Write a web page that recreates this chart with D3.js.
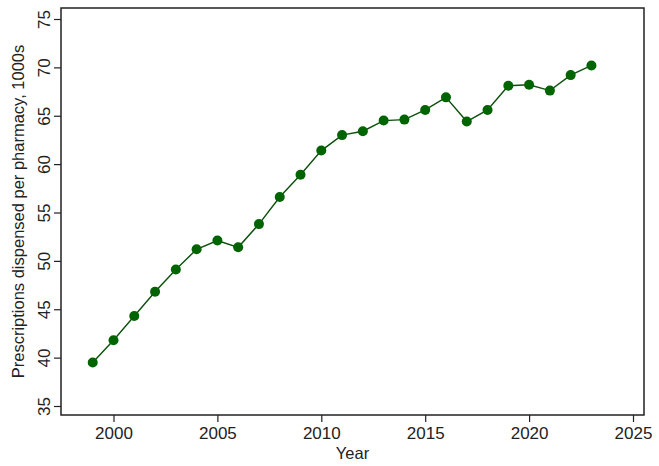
<!DOCTYPE html>
<html lang="en">
<head>
  <meta charset="UTF-8">
  <title>Prescriptions per pharmacy</title>
  <script src="https://d3js.org/d3.v7.min.js"></script>
  <style>
    body { margin: 0; background: #fff; }
    svg { display: block; }
    text {
      font-family: "Liberation Sans", Arial, Helvetica, sans-serif;
      fill: #222;
    }
  </style>
</head>
<body>
  <svg></svg>

  <script>
    const width = 659;
    const height = 466;

    // datos
    const years = [1999, 2000, 2001, 2002, 2003, 2004, 2005, 2006, 2007, 2008, 2009, 2010,
                   2011, 2012, 2013, 2014, 2015, 2016, 2017, 2018, 2019, 2020, 2021, 2022, 2023];
    const prescriptions = [39.5, 41.8, 44.3, 46.8, 49.1, 51.2, 52.1, 51.4, 53.8, 56.6, 58.9, 61.4,
                           63.0, 63.4, 64.5, 64.6, 65.6, 66.9, 64.4, 65.6, 68.1, 68.2, 67.6, 69.2, 70.2];
    const xTicks = [2000, 2005, 2010, 2015, 2020, 2025];
    const yTicks = [35, 40, 45, 50, 55, 60, 65, 70, 75];

    const data = years.map((y, i) => ({ year: y, value: prescriptions[i] }));

    // caja del grafico
    const frame = { left: 61, right: 644, top: 8, bottom: 415 };

    const svg = d3.select("svg")
        .attr("width", width)
        .attr("height", height);

    const x = d3.scaleLinear()
        .domain([2000, 2025])
        .range([113.5, 633]);

    const y = d3.scaleLinear()
        .domain([35, 75])
        .range([406, 19]);

    // eje x
    svg.append("g")
        .attr("transform", `translate(0,${frame.bottom})`)
        .call(d3.axisBottom(x).tickValues(xTicks).tickFormat(d3.format("d")).tickSize(7).tickPadding(5))
        .call(g => g.select(".domain").remove())
        .call(g => g.selectAll("line").attr("stroke", "#222").attr("stroke-width", 1.2))
        .call(g => g.selectAll("text")
            .attr("font-size", "17px")
            .attr("font-family", null)
            .attr("fill", "#222"));

    // eje y (etiquetas verticales)
    const yAxis = svg.append("g")
        .attr("transform", `translate(${frame.left},0)`)
        .call(d3.axisLeft(y).tickValues(yTicks).tickSize(7))
        .call(g => g.select(".domain").remove())
        .call(g => g.selectAll("line").attr("stroke", "#222").attr("stroke-width", 1.2));

    yAxis.selectAll(".tick text")
        .attr("x", null)
        .attr("dy", null)
        .attr("font-size", "17px")
        .attr("font-family", null)
        .attr("fill", "#222")
        .attr("text-anchor", "middle")
        .attr("transform", "translate(-11,0) rotate(-90)");

    // marco
    svg.append("rect")
        .attr("x", frame.left)
        .attr("y", frame.top)
        .attr("width", frame.right - frame.left)
        .attr("height", frame.bottom - frame.top)
        .attr("fill", "none")
        .attr("stroke", "#222")
        .attr("stroke-width", 1.5);

    // titulos
    svg.append("text")
        .attr("x", (frame.left + frame.right) / 2)
        .attr("y", 459)
        .attr("text-anchor", "middle")
        .attr("font-size", "16.5px")
        .text("Year");

    svg.append("text")
        .attr("transform", `translate(24,${(frame.top + frame.bottom) / 2}) rotate(-90)`)
        .attr("text-anchor", "middle")
        .attr("font-size", "16.5px")
        .text("Prescriptions dispensed per pharmacy, 1000s");

    // linea y puntos
    const line = d3.line()
        .x(d => x(d.year))
        .y(d => y(d.value));

    svg.append("path")
        .datum(data)
        .attr("fill", "none")
        .attr("stroke", "#0b4f0b")
        .attr("stroke-width", 1.4)
        .attr("d", line);

    svg.selectAll("circle")
        .data(data)
        .enter().append("circle")
        .attr("cx", d => x(d.year))
        .attr("cy", d => y(d.value))
        .attr("r", 5)
        .attr("fill", "#006400");
  </script>
</body>
</html>
